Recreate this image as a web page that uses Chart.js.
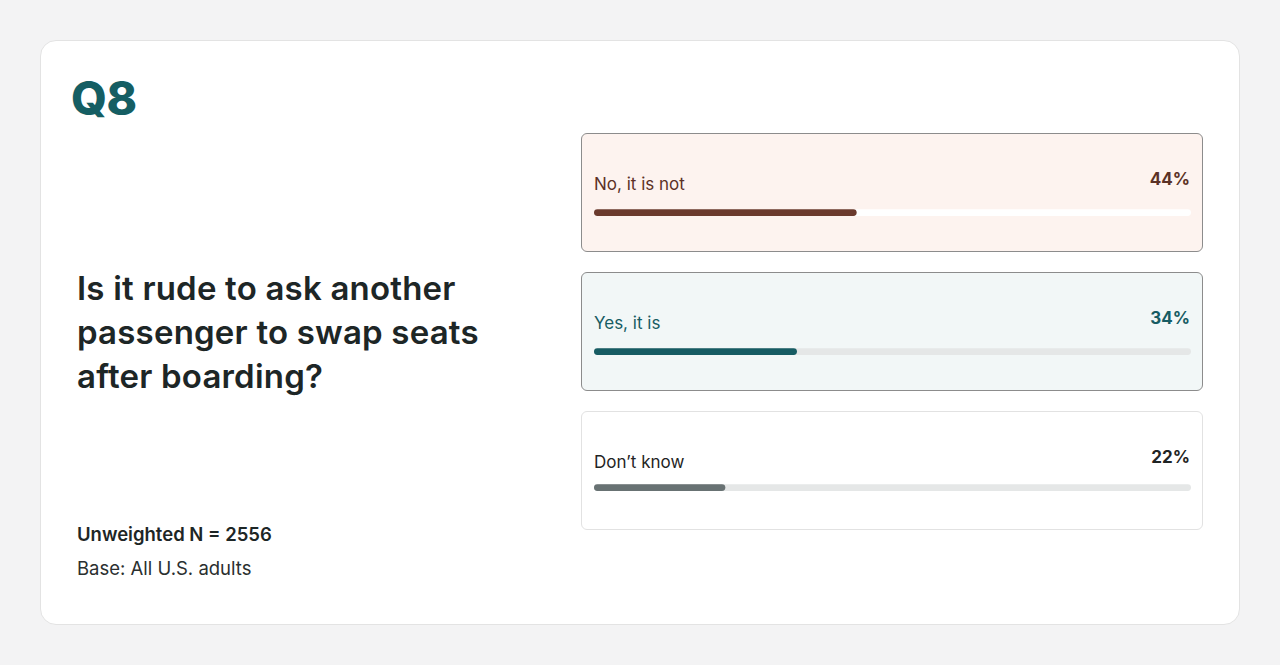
<!DOCTYPE html>
<html><head><meta charset="utf-8">
<script src="https://cdn.jsdelivr.net/npm/chart.js@4"></script>
<style>
body{margin:0;width:1280px;height:665px;background:#f3f3f4;font-family:Inter,"Noto Sans",sans-serif;position:relative;overflow:hidden}
.panel{position:absolute;left:40px;top:40px;width:1200px;height:585px;background:#fff;border:1px solid #e3e3e3;border-radius:16px;box-sizing:border-box}
.q{position:absolute;left:71px;top:70px;font-size:46px;font-weight:800;color:#155e63;letter-spacing:-0.5px}
.title{position:absolute;left:77px;top:266px;font-size:33px;font-weight:600;color:#1d2626;line-height:44px;width:470px;letter-spacing:0.2px}
.n{position:absolute;left:77px;top:523px;font-size:18.5px;font-weight:600;color:#1d2626}
.b{position:absolute;left:77px;top:557px;font-size:18.5px;color:#2a2f2f}
.card{position:absolute;left:581px;width:622px;height:119px;border-radius:6px;box-sizing:border-box}
.lab{position:absolute;left:12px;font-size:17px}
.pct{position:absolute;right:12px;font-size:17px;font-weight:700}
.cv{position:absolute;left:12px;width:597px;height:9px}
</style></head><body>
<div class="panel"></div>
<div class="q">Q8</div>
<div class="title">Is it rude to ask another passenger to swap seats after boarding?</div>
<div class="n">Unweighted N = 2556</div>
<div class="b">Base: All U.S. adults</div>
<div id="cards"></div>
<script>
const categories=["No, it is not","Yes, it is","Don’t know"];
const values=[44,34,22];
const styles=[
 {top:133,bg:"#fdf3ef",border:"#8c8c8c",bar:"#6b3a2d",track:"#ffffff",text:"#5b3126",lt:40,bt:74},
 {top:272,bg:"#f2f7f7",border:"#8c8c8c",bar:"#175c63",track:"#e5e7e7",text:"#175c63",lt:40,bt:74},
 {top:411,bg:"#ffffff",border:"#e2e2e2",bar:"#687273",track:"#e5e7e7",text:"#1f2424",lt:40,bt:71}
];
const host=document.getElementById('cards');
categories.forEach((c,i)=>{
 const s=styles[i];
 const d=document.createElement('div');d.className='card';
 d.style.top=s.top+'px';d.style.background=s.bg;d.style.border='1px solid '+s.border;
 d.innerHTML=`<div class="lab" style="top:${s.lt}px;color:${s.text}">${c}</div><div class="pct" style="top:${s.lt-5}px;color:${s.text}">${values[i]}%</div><div class="cv" style="top:${s.bt}px"><canvas></canvas></div>`;
 host.appendChild(d);
 new Chart(d.querySelector('canvas'),{type:'bar',
  data:{labels:[c],datasets:[
   {data:[values[i]],backgroundColor:s.bar,borderRadius:5,borderSkipped:false,barPercentage:0.75,categoryPercentage:1,grouped:false,order:0},
   {data:[100],backgroundColor:s.track,borderRadius:5,borderSkipped:false,barPercentage:0.75,categoryPercentage:1,grouped:false,order:1}]},
  options:{indexAxis:'y',responsive:true,maintainAspectRatio:false,animation:false,
   layout:{padding:0},plugins:{legend:{display:false},tooltip:{enabled:false}},
   scales:{x:{display:false,min:0,max:100},y:{display:false}}}});
});
</script></body></html>
